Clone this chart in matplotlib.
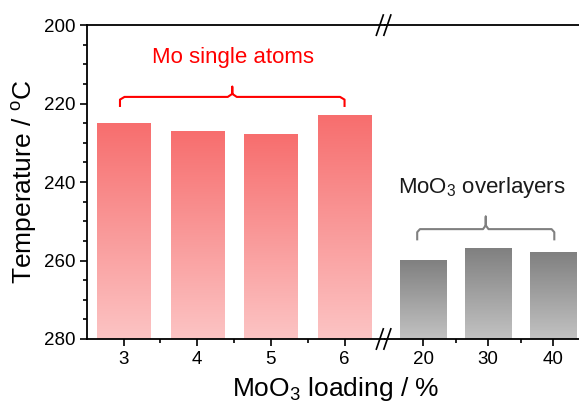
import numpy as np
import matplotlib.pyplot as plt
from matplotlib.colors import to_rgb

plt.rcParams['font.family'] = ['Liberation Sans', 'DejaVu Sans']
plt.rcParams['mathtext.fontset'] = 'custom'
plt.rcParams['mathtext.rm'] = 'Liberation Sans'
plt.rcParams['mathtext.it'] = 'Liberation Sans:italic'

# onset temperatures
low_loading = [3, 4, 5, 6]
low_temp = [225, 227, 228, 223]
high_loading = [20, 30, 40]
high_temp = [260, 257, 258]

y_bottom, y_top = 280, 200

fig = plt.figure(figsize=(5.79, 4.05), dpi=100)
ax1 = fig.add_axes([0.150, 0.163, 0.515, 0.775])
ax2 = fig.add_axes([0.665, 0.163, 0.335, 0.775])


def gradient_bars(ax, xs, vals, width, c_top, c_bottom):
    top = np.array(to_rgb(c_top))
    bot = np.array(to_rgb(c_bottom))
    t = np.linspace(0, 1, 256)[:, None]
    for x, v in zip(xs, vals):
        img = (top + (bot - top) * t)[:, None, :]
        ax.imshow(img, extent=[x - width / 2, x + width / 2, y_bottom, v],
                  origin='upper', aspect='auto', zorder=2)


def bracket(ax, x0, x1, y, drop, tip, color):
    xm = (x0 + x1) / 2
    r = (x1 - x0) * 0.02
    xs = [x0, x0, x0 + r, xm - r, xm, xm, xm, xm + r, x1 - r, x1, x1]
    ys = [y + drop, y + drop * 0.3, y, y, y - tip * 0.3, y - tip, y - tip * 0.3, y, y, y + drop * 0.3, y + drop]
    ax.plot(xs, ys, color=color, lw=1.5, solid_joinstyle='round', zorder=3)


gradient_bars(ax1, low_loading, low_temp, 0.72, '#f76e6e', '#fcc4c4')
gradient_bars(ax2, high_loading, high_temp, 7.2, '#808080', '#c2c2c2')

ax1.set_xlim(2.5, 6.55)
ax2.set_xlim(14.15, 44.0)
for ax in (ax1, ax2):
    ax.set_ylim(y_bottom, y_top)
    for s in ax.spines.values():
        s.set_linewidth(1.3)
    ax.tick_params(which='major', direction='out', length=5, width=1.2, labelsize=13.5)
    ax.tick_params(which='minor', direction='out', length=3, width=1.2)
    ax.spines['right'].set_visible(False)

ax1.set_xticks(low_loading)
ax1.set_xticks([3.5, 4.5, 5.5], minor=True)
ax1.set_yticks([200, 220, 240, 260, 280])
ax1.set_yticks(np.arange(200, 281, 5), minor=True)

ax2.set_xticks(high_loading)
ax2.set_xticks([25, 35], minor=True)
ax2.spines['left'].set_visible(False)
ax2.tick_params(axis='y', which='both', left=False, labelleft=False)

ax1.set_ylabel('Temperature / $^\\mathregular{o}$C', fontsize=19, labelpad=3)
fig.text(0.579, 0.022, 'MoO$_\\mathregular{3}$ loading / %',
         fontsize=19, ha='center', va='baseline')

# group labels
bracket(ax1, 2.95, 6.0, 218.3, 2.3, 2.6, 'red')
ax1.text(4.48, 208.3, 'Mo single atoms', color='red', fontsize=16, ha='center', va='center')
bracket(ax2, 19.1, 40.2, 252.0, 2.6, 3.2, '#808080')
ax2.text(29.0, 241.5, 'MoO$_\\mathregular{3}$ overlayers', color='#1a1a1a', fontsize=16,
         ha='center', va='center')

# axis break marks
xb = 0.665
for yb in (0.938, 0.163):
    for dx in (-0.009, 0.004):
        fig.add_artist(plt.Line2D([xb + dx - 0.006, xb + dx + 0.006], [yb - 0.025, yb + 0.025],
                                  color='black', lw=1.2))

fig.savefig('out.png', dpi=100)
